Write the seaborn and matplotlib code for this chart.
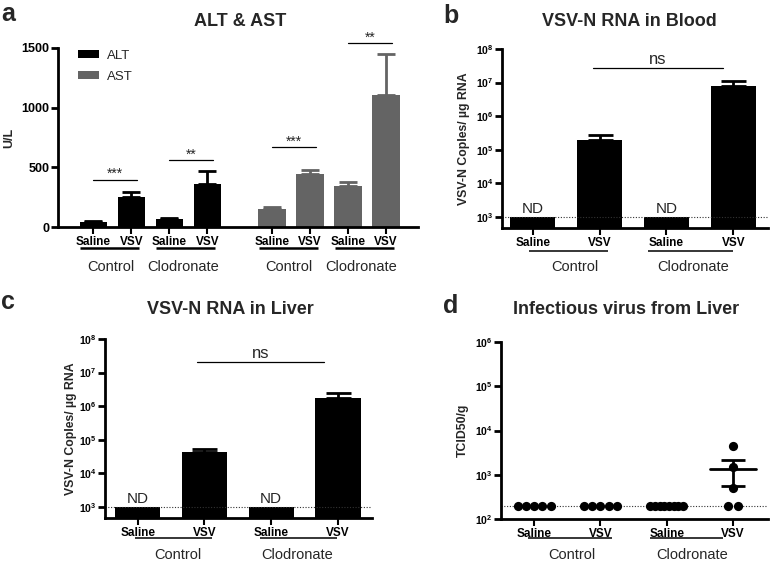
import matplotlib
matplotlib.use("Agg")
import matplotlib.pyplot as plt
from matplotlib.ticker import NullLocator
import numpy as np
import pandas as pd
import seaborn as sns

sns.set_style("ticks")
plt.rcParams["font.family"] = ["Liberation Sans", "DejaVu Sans"]
plt.rcParams["mathtext.fontset"] = "custom"
plt.rcParams["mathtext.rm"] = "Liberation Sans"
plt.rcParams["mathtext.bf"] = "Liberation Sans:bold"

W, H = 771, 562
BLACK = "#000000"
GREY = "#646464"

# ---- data ----
TREATMENTS = ["Saline", "VSV", "Saline", "VSV"]
GROUPS = ["Control", "Clodronate"]

# a: ALT & AST (U/L), mean and SEM
ALT_MEAN = [45, 250, 70, 360]
ALT_SEM = [4, 40, 5, 110]
AST_MEAN = [150, 445, 340, 1110]
AST_SEM = [14, 35, 35, 340]
A_SIG = ["***", "**", "***", "**"]
A_SIG_Y = [395, 560, 670, 1540]

# b / c: VSV-N RNA copies per ug RNA
BLOOD_MEAN = [1e3, 1.9e5, 1e3, 7.8e6]
BLOOD_SEM = [0, 9e4, 0, 3.2e6]
LIVER_MEAN = [1e3, 4.4e4, 1e3, 1.75e6]
LIVER_SEM = [0, 1.0e4, 0, 7.5e5]
ND_FLAGS = [True, False, True, False]
RNA_LIMIT = 1e3
NS_BLOOD_Y = 2.7e7
NS_LIVER_Y = 2.0e7

# d: TCID50/g, individual mice
TCID_CTRL_SALINE = [200, 200, 200, 200, 200]
TCID_CTRL_VSV = [200, 200, 200, 200, 200]
TCID_CLOD_SALINE = [200, 200, 200, 200, 200, 200, 200, 200]
TCID_CLOD_VSV = [4500, 1480, 500, 200, 200]
TCID_LIMIT = 200

fig = plt.figure(figsize=(W / 100, H / 100), dpi=100)


def px_axes(left, top, right, bottom):
    return fig.add_axes([left / W, 1 - bottom / H, (right - left) / W,
                         (bottom - top) / H])


def style_axis(ax):
    sns.despine(ax=ax)
    for s in ("left", "bottom"):
        ax.spines[s].set_linewidth(2)
        ax.spines[s].set_color(BLACK)
    ax.tick_params(axis="y", direction="out", length=5, width=2, pad=1,
                   colors=BLACK)
    ax.tick_params(axis="x", direction="out", length=5, width=1.5, pad=1.5,
                   colors=BLACK)
    ax.set_xlabel("")


def frac_below(ax, px):
    h = ax.get_position().height * H
    return -px / h


def group_labels(ax, lines, centers, names, line_px, text_px, lw):
    tr = ax.get_xaxis_transform()
    y_line = frac_below(ax, line_px)
    y_text = frac_below(ax, text_px)
    for (x0, x1), xc, name in zip(lines, centers, names):
        ax.plot([x0, x1], [y_line, y_line], color=BLACK, lw=lw,
                transform=tr, clip_on=False, solid_capstyle="butt")
        ax.text(xc, y_text, name, transform=tr, ha="center", va="center",
                fontsize=10.5)


def log_ticks(ax, lo, hi):
    exps = list(range(lo, hi + 1))
    ax.set_yticks([10.0 ** e for e in exps])
    ax.set_yticklabels([r"$\mathbf{10^{%d}}$" % e for e in exps], fontsize=7.5)
    ax.yaxis.set_minor_locator(NullLocator())


def rna_panel(ax, means, sems, ns_y, ns_span):
    sns.barplot(x=list(range(4)), y=means, color=BLACK, saturation=1,
                width=0.68, errorbar=None, linewidth=0, ax=ax)
    ax.set_yscale("log")
    for i, (m, s) in enumerate(zip(means, sems)):
        if s > 0:
            ax.errorbar(i, m, yerr=[[0], [s]], fmt="none", ecolor=BLACK,
                        elinewidth=2, capsize=9, capthick=2)
        if ND_FLAGS[i]:
            ax.annotate("ND", (i, m), xytext=(0, 1), textcoords="offset points",
                        ha="center", va="bottom", fontsize=11)
    ax.axhline(RNA_LIMIT, ls=(0, (1, 1.5)), lw=0.8, color="#333333")
    ax.plot(ns_span, [ns_y, ns_y], color=BLACK, lw=0.9)
    ax.annotate("ns", (np.mean(ns_span), ns_y), xytext=(0, 1),
                textcoords="offset points", ha="center", va="bottom",
                fontsize=12)
    ax.set_ylim(10 ** (3 - 11 / 33.6), 1e8)
    log_ticks(ax, 3, 8)
    ax.set_xticks(range(4))
    ax.set_xticklabels(TREATMENTS, fontweight="bold", fontsize=8.5)
    style_axis(ax)


# ---------------- a ----------------
A_POS = [0, 1, 2, 3, 4.7, 5.7, 6.7, 7.7]
ax_a = px_axes(58, 48, 418, 227)
df_a = pd.DataFrame({"pos": A_POS, "value": ALT_MEAN + AST_MEAN,
                     "enzyme": ["ALT"] * 4 + ["AST"] * 4})
sns.barplot(data=df_a, x="pos", y="value", hue="enzyme",
            palette={"ALT": BLACK, "AST": GREY}, native_scale=True,
            dodge=False, width=0.72, saturation=1, errorbar=None,
            linewidth=0, ax=ax_a)
for pos, m, s, c in ((A_POS[:4], ALT_MEAN, ALT_SEM, BLACK),
                     (A_POS[4:], AST_MEAN, AST_SEM, GREY)):
    ax_a.errorbar(pos, m, yerr=[np.zeros(len(s)), s], fmt="none", ecolor=c,
                  elinewidth=2, capsize=6.5, capthick=2)
for k, (txt, y) in enumerate(zip(A_SIG, A_SIG_Y)):
    x0, x1 = A_POS[2 * k], A_POS[2 * k + 1] + 0.15
    ax_a.plot([x0, x1], [y, y], color=BLACK, lw=0.9, clip_on=False)
    ax_a.annotate(txt, ((x0 + x1) / 2, y), xytext=(0, -1),
                  textcoords="offset points", ha="center", va="bottom",
                  fontsize=10, annotation_clip=False)
ax_a.set_xlim(-0.93, 8.54)
ax_a.set_ylim(0, 1500)
ax_a.set_yticks([0, 500, 1000, 1500])
ax_a.set_yticklabels(["0", "500", "1000", "1500"], fontweight="bold",
                     fontsize=9)
ax_a.set_xticks(A_POS)
ax_a.set_xticklabels(TREATMENTS * 2, fontweight="bold", fontsize=8.5)
ax_a.set_ylabel("U/L", fontweight="bold", fontsize=9)
ax_a.yaxis.set_label_coords(-0.12, 0.5)
h, l = ax_a.get_legend_handles_labels()
ax_a.legend(h, l, loc="upper left", bbox_to_anchor=(0.055, 0.99),
            frameon=False, fontsize=9.5, handlelength=1.6, handleheight=0.55,
            handletextpad=0.6, labelspacing=0.7, borderpad=0, borderaxespad=0)
style_axis(ax_a)
group_labels(ax_a,
             [(A_POS[0] - 0.35, A_POS[1] + 0.2), (A_POS[2] - 0.35, A_POS[3] + 0.2),
              (A_POS[4] - 0.35, A_POS[5] + 0.2), (A_POS[6] - 0.35, A_POS[7] + 0.2)],
             [A_POS[0] + 0.45, A_POS[2] + 0.35, A_POS[4] + 0.45, A_POS[6] + 0.35],
             GROUPS * 2, 21, 40, 1.8)

# ---------------- b ----------------
ax_b = px_axes(502, 49, 768, 228)
rna_panel(ax_b, BLOOD_MEAN, BLOOD_SEM, NS_BLOOD_Y, [0.9, 2.85])
ax_b.set_xlim(-0.46, 3.52)
ax_b.set_ylabel("VSV-N Coples/ µg RNA", fontweight="bold", fontsize=8.8)
ax_b.yaxis.set_label_coords(-0.12, 0.5)
group_labels(ax_b, [(-0.05, 1.12), (1.72, 3.0)], [0.63, 2.4], GROUPS,
             23, 39, 1.1)

# ---------------- c ----------------
ax_c = px_axes(105, 339, 372, 518)
rna_panel(ax_c, LIVER_MEAN, LIVER_SEM, NS_LIVER_Y, [0.89, 2.79])
ax_c.set_xlim(-0.49, 3.51)
ax_c.set_ylabel("VSV-N Coples/ µg RNA", fontweight="bold", fontsize=8.8)
ax_c.yaxis.set_label_coords(-0.105, 0.5)
group_labels(ax_c, [(-0.04, 1.12), (1.83, 2.99)], [0.6, 2.39], GROUPS,
             20, 37, 1.1)

# ---------------- d ----------------
ax_d = px_axes(501, 342, 768, 519)
d_sets = [TCID_CTRL_SALINE, TCID_CTRL_VSV, TCID_CLOD_SALINE, TCID_CLOD_VSV]
rows = []
for gi, vals in enumerate(d_sets):
    vals = np.asarray(vals, dtype=float)
    for v in np.unique(vals):
        n = int((vals == v).sum())
        step = min(0.16, 0.5 / (n - 1)) if n > 1 else 0
        for j in range(n):
            rows.append({"x": gi + (j - (n - 1) / 2) * step, "y": v})
df_d = pd.DataFrame(rows)
ax_d.axhline(TCID_LIMIT, ls=(0, (1, 1.5)), lw=0.8, color="#333333")
sns.scatterplot(data=df_d, x="x", y="y", color=BLACK, s=44, linewidth=0,
                ax=ax_d, zorder=3)
for gi, vals in enumerate(d_sets):
    vals = np.asarray(vals, dtype=float)
    sem = vals.std(ddof=1) / np.sqrt(len(vals))
    if sem > 0:
        m = vals.mean()
        ax_d.plot([gi - 0.35, gi + 0.35], [m, m], color=BLACK, lw=2, zorder=4)
        ax_d.errorbar(gi, m, yerr=sem, fmt="none", ecolor=BLACK,
                      elinewidth=2, capsize=8.5, capthick=2, zorder=4)
ax_d.set_yscale("log")
ax_d.set_xlim(-0.5, 3.53)
ax_d.set_ylim(1e2, 1e6)
log_ticks(ax_d, 2, 6)
ax_d.set_xticks(range(4))
ax_d.set_xticklabels(TREATMENTS, fontweight="bold", fontsize=8.5)
style_axis(ax_d)
ax_d.set_ylabel("TCID50/g", fontweight="bold", fontsize=8.8)
ax_d.yaxis.set_label_coords(-0.12, 0.5)
group_labels(ax_d, [(-0.09, 1.17), (1.75, 2.85)], [0.57, 2.38], GROUPS,
             19, 36, 1.1)

# ---------------- titles and panel letters ----------------
for x, y, t in ((240, 22, "ALT & AST"), (629, 22, "VSV-N RNA in Blood"),
                (230, 310, "VSV-N RNA in Liver"),
                (626, 309, "Infectious virus from Liver")):
    fig.text(x / W, 1 - y / H, t, ha="center", va="center", fontsize=13,
             fontweight="bold")
for x, y, t in ((1, 2, "a"), (443, 4, "b"), (1, 290, "c"), (443, 294, "d")):
    fig.text(x / W, 1 - y / H, t, ha="left", va="top", fontsize=18,
             fontweight="bold")

fig.savefig("out.png", dpi=100)
